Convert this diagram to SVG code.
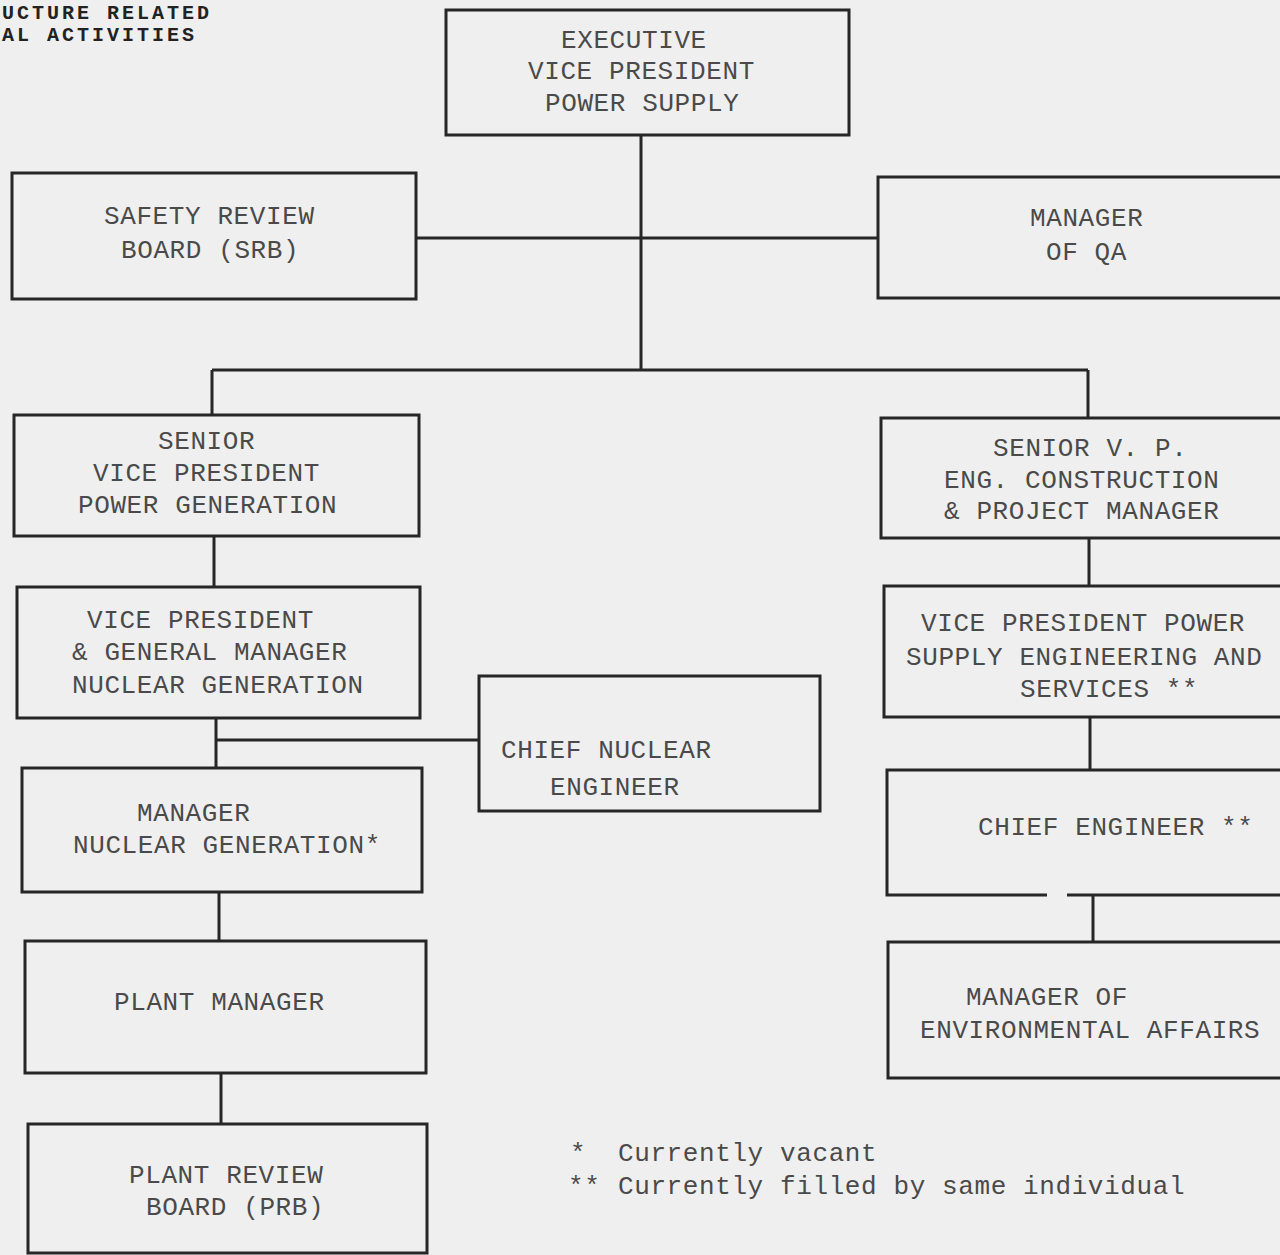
<svg xmlns="http://www.w3.org/2000/svg" width="1280" height="1255" viewBox="0 0 1280 1255">
<style>
.bg{fill:#efefef}
.box{fill:none;stroke:#262626;stroke-width:3}
.ln{fill:none;stroke:#262626;stroke-width:3}
.t{font-family:"Liberation Mono","DejaVu Sans Mono",monospace;font-size:26px;letter-spacing:0.6px;fill:#4a4a4a}
.h{font-family:"Liberation Mono","DejaVu Sans Mono",monospace;font-size:20px;letter-spacing:3px;font-weight:bold;fill:#222}
</style>
<rect class="bg" x="0" y="0" width="1280" height="1255"/>
<g id="title">
<text class="h" x="2" y="19">UCTURE RELATED</text>
<text class="h" x="2" y="41">AL ACTIVITIES</text>
</g>
<g id="connectors">
<path class="ln" d="M641 135 V370"/>
<path class="ln" d="M416 238 H878"/>
<path class="ln" d="M212 370 H1088"/>
<path class="ln" d="M212 370 V416"/>
<path class="ln" d="M1088 370 V418"/>
<path class="ln" d="M214 536 V587"/>
<path class="ln" d="M1089 538 V586"/>
<path class="ln" d="M216 718 V768"/>
<path class="ln" d="M216 740 H479"/>
<path class="ln" d="M1090 717 V770"/>
<path class="ln" d="M219 892 V941"/>
<path class="ln" d="M1093 895 V942"/>
<path class="ln" d="M221 1073 V1124"/>
</g>
<g id="exec-vp">
<rect class="box" x="446" y="10" width="403" height="125"/>
<text class="t" x="561" y="48">EXECUTIVE</text>
<text class="t" x="528" y="79">VICE PRESIDENT</text>
<text class="t" x="545" y="111">POWER SUPPLY</text>
</g>
<g id="srb">
<rect class="box" x="12" y="173" width="404" height="126"/>
<text class="t" x="104" y="224">SAFETY REVIEW</text>
<text class="t" x="121" y="258">BOARD (SRB)</text>
</g>
<g id="qa">
<rect class="box" x="878" y="177" width="420" height="121"/>
<text class="t" x="1030" y="226">MANAGER</text>
<text class="t" x="1046" y="260">OF QA</text>
</g>
<g id="svp-power-gen">
<rect class="box" x="14" y="415" width="405" height="121"/>
<text class="t" x="158" y="449">SENIOR</text>
<text class="t" x="93" y="481">VICE PRESIDENT</text>
<text class="t" x="78" y="513">POWER GENERATION</text>
</g>
<g id="svp-eng">
<rect class="box" x="881" y="418" width="420" height="120"/>
<text class="t" x="993" y="456">SENIOR V. P.</text>
<text class="t" x="944" y="488">ENG. CONSTRUCTION</text>
<text class="t" x="944" y="519">&amp; PROJECT MANAGER</text>
</g>
<g id="vp-gm">
<rect class="box" x="17" y="587" width="403" height="131"/>
<text class="t" x="87" y="628">VICE PRESIDENT</text>
<text class="t" x="72" y="660">&amp; GENERAL MANAGER</text>
<text class="t" x="72" y="693">NUCLEAR GENERATION</text>
</g>
<g id="vp-power-supply">
<rect class="box" x="884" y="586" width="420" height="131"/>
<text class="t" x="921" y="631">VICE PRESIDENT POWER</text>
<text class="t" x="906" y="665">SUPPLY ENGINEERING AND</text>
<text class="t" x="1020" y="697">SERVICES **</text>
</g>
<g id="chief-nuclear-engineer">
<rect class="box" x="479" y="676" width="341" height="135"/>
<text class="t" x="501" y="758">CHIEF NUCLEAR</text>
<text class="t" x="550" y="795">ENGINEER</text>
</g>
<g id="mgr-nuclear-gen">
<rect class="box" x="22" y="768" width="400" height="124"/>
<text class="t" x="137" y="821">MANAGER</text>
<text class="t" x="73" y="853">NUCLEAR GENERATION*</text>
</g>
<g id="chief-engineer">
<path class="box" d="M1300 770 H887 V895 H1047 M1067 895 H1300"/>
<text class="t" x="978" y="835">CHIEF ENGINEER **</text>
</g>
<g id="plant-manager">
<rect class="box" x="25" y="941" width="401" height="132"/>
<text class="t" x="114" y="1010">PLANT MANAGER</text>
</g>
<g id="mgr-env-affairs">
<rect class="box" x="888" y="942" width="420" height="136"/>
<text class="t" x="966" y="1005">MANAGER OF</text>
<text class="t" x="920" y="1038">ENVIRONMENTAL AFFAIRS</text>
</g>
<g id="prb">
<rect class="box" x="28" y="1124" width="399" height="129"/>
<text class="t" x="129" y="1183">PLANT REVIEW</text>
<text class="t" x="146" y="1215">BOARD (PRB)</text>
</g>
<g id="legend">
<text class="t" y="1161"><tspan x="570">*</tspan><tspan x="618">Currently vacant</tspan></text>
<text class="t" y="1194"><tspan x="568">**</tspan><tspan x="618">Currently filled by same individual</tspan></text>
</g>
</svg>
